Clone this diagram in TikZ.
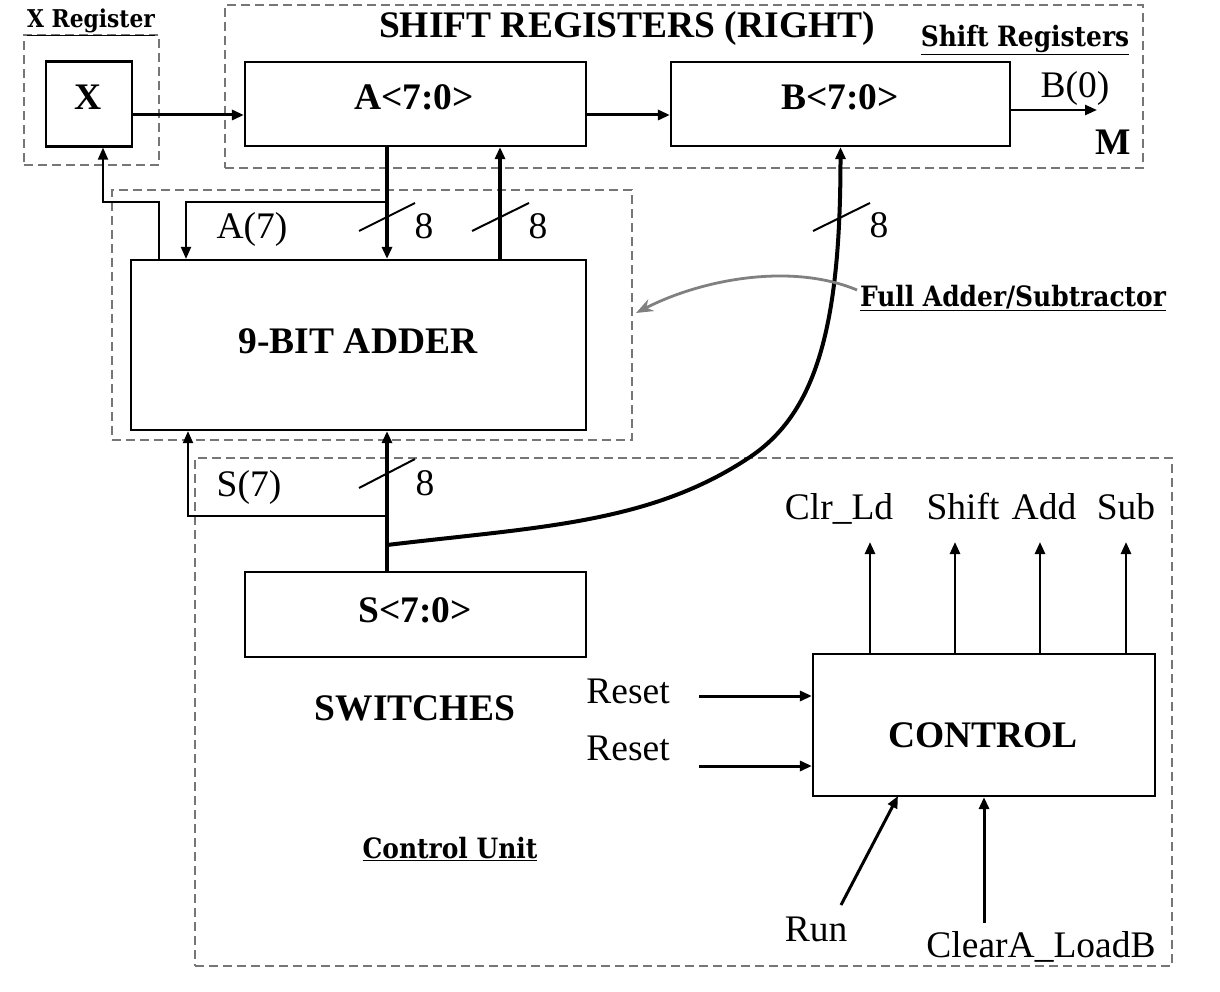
\documentclass[tikz,border=0pt]{standalone}
\usepackage{fontspec}
\setmainfont{Liberation Serif}
\newfontfamily\lblfont[FakeStretch=0.89]{DejaVu Serif}
\usetikzlibrary{arrows.meta}
\definecolor{dashgray}{RGB}{118,118,118}
\definecolor{pointgray}{RGB}{128,128,128}
\begin{document}
\begin{tikzpicture}[x=1pt,y=-1pt,
  box/.style={draw,line width=2.2pt,inner sep=0pt},
  grp/.style={draw=dashgray,line width=1.8pt,dash pattern=on 9pt off 5pt,inner sep=0pt},
  txt/.style={inner sep=0pt,anchor=base,font=\fontsize{37.5}{40}\selectfont},
  btxt/.style={inner sep=0pt,anchor=base,font=\bfseries\fontsize{37.5}{40}\selectfont},
  lbl/.style={inner sep=0pt,anchor=base,font=\lblfont\bfseries\fontsize{28}{30}\selectfont},
  tip/.style={-{Triangle[length=12pt,width=10pt]}},
  arr/.style={line width=3pt,tip},
  thin/.style={line width=2pt,tip},
  bus/.style={line width=4pt,tip},
  slash/.style={line width=2pt},
  ptr/.style={draw=pointgray,line width=2.8pt,-{Stealth[length=17pt,width=13pt]}}
]
\useasboundingbox (0,0) rectangle (1220,992);

% group boxes
\node[grp,minimum width=135pt,minimum height=130pt] (xg) at (91.5,100) {};
\node[grp,minimum width=918pt,minimum height=163pt] (sg) at (684,86.5) {};
\node[grp,minimum width=520pt,minimum height=250pt] (ag) at (372,315) {};
\node[grp,minimum width=977pt,minimum height=508pt] (cg) at (683.5,712) {};

% main boxes
\node[box,minimum width=86pt,minimum height=85pt] (X) at (89,104) {};
\node[box,minimum width=341pt,minimum height=84pt] (A) at (415.5,104) {};
\node[box,minimum width=339pt,minimum height=84pt] (B) at (840.5,104) {};
\node[box,minimum width=455pt,minimum height=170pt] (ADD) at (358.5,345) {};
\node[box,minimum width=341pt,minimum height=85pt] (S) at (415.5,614.5) {};
\node[box,minimum width=342pt,minimum height=142pt] (CTL) at (984,725) {};

% box texts
\node[btxt] (tX) at (88,110) {X};
\node[btxt] (tA) at (414,110) {A<7:0>};
\node[btxt] (tB) at (840,110) {B<7:0>};
\node[btxt] (tADD) at (358,353) {9-BIT ADDER};
\node[btxt] (tS) at (415,622) {S<7:0>};
\node[btxt] (tCTL) at (983,747) {CONTROL};

% labels
\node[lbl,font=\lblfont\bfseries\fontsize{24.5}{26}\selectfont] (lx) at (91,28) {\underline{X Register}};
\node[btxt] (ltitle) at (627,38) {SHIFT REGISTERS (RIGHT)};
\node[lbl] (lsr) at (1025,47) {\underline{Shift Registers}};
\node[txt] (lb0) at (1075,98) {B(0)};
\node[btxt] (lm) at (1113,155) {M};
\node[txt] (la7) at (252,239) {A(7)};
\node[txt] (n1) at (424,239) {8};
\node[txt] (n2) at (538,239) {8};
\node[txt] (n3) at (879,238) {8};
\node[txt] (n4) at (425,495) {8};
\node[lbl] (lfa) at (1013,306) {\underline{Full Adder/Subtractor}};
\node[txt] (ls7) at (249,496) {S(7)};
\node[btxt] (lsw) at (415,720) {SWITCHES};
\node[txt] (lr1) at (628,703) {Reset};
\node[txt] (lr2) at (628,760) {Reset};
\node[txt] (lclr) at (839,519) {Clr\_Ld};
\node[txt] (lsh) at (963,519) {Shift};
\node[txt] (lad) at (1044,519) {Add};
\node[txt] (lsu) at (1126,519) {Sub};
\node[txt] (lrun) at (816,941) {Run};
\node[txt] (lcl) at (1041,957) {ClearA\_LoadB};
\node[lbl] (lcu) at (450,858) {\underline{Control Unit}};

% helper coordinates
\coordinate (ax) at (387,0);
\coordinate (ux) at (500,0);
\coordinate (a7x) at (186,0);
\coordinate (xlx) at (103,0);
\coordinate (xrx) at (159,0);
\coordinate (s7x) at (188,0);
\coordinate (hy) at (0,202);
\coordinate (sy) at (0,516);
\coordinate (jn) at (387,545);
\coordinate (bm) at (750,457);
\coordinate (b0e) at (1097,110);
\coordinate (r1s) at (699,696);
\coordinate (r2s) at (699,766);
\coordinate (runs) at (841,905);
\coordinate (runt) at (898,796);
\coordinate (cls) at (984,923);
\coordinate (fas) at (857,290);
\coordinate (fat) at (636,313);

% top connectors
\draw[arr] ([yshift=-11pt]X.east) -- ([yshift=-11pt]A.west);
\draw[arr] ([yshift=-11pt]A.east) -- ([yshift=-11pt]B.west);
\draw[thin,line width=2.5pt] ([yshift=-6pt]B.east) -- (b0e);

% A <-> adder
\draw[bus] (A.south -| ax) -- (ADD.north -| ax);
\draw[bus] (ADD.north -| ux) -- (A.south -| ux);
\draw[thin] (ax |- hy) -| (ADD.north -| a7x);
\draw[thin] (ADD.north -| xrx) |- (hy -| xlx) -- (X.south -| xlx);
\draw[slash] (359,231) -- (415,203);
\draw[slash] (472,231) -- (529,203);

% S -> adder
\draw[bus] (S.north -| ax) -- (ADD.south -| ax);
\draw[thin] (ax |- sy) -| (ADD.south -| s7x);
\draw[slash] (359,488) -- (415,459);

% bus to B
\draw[bus] (jn) .. controls (537,527) and (650,524) .. (bm)
  .. controls (816.4,412.5) and (840.5,326) .. (B.south);
\draw[slash] (813,231) -- (870,203);

% pointer
\draw[ptr] (fas) .. controls (790,262) and (700,280) .. (fat);

% control
\draw[arr] (r1s) -- (CTL.west |- r1s);
\draw[arr] (r2s) -- (CTL.west |- r2s);
\foreach \xx/\nm in {870/a,955/b,1040/c,1126/d}{
  \coordinate (o\nm) at (\xx,542);
  \draw[arr,line width=2.6pt] (CTL.north -| o\nm) -- (o\nm);
}
\draw[arr] (runs) -- (runt);
\draw[arr] (cls) -- (CTL.south -| cls);
\end{tikzpicture}
\end{document}
